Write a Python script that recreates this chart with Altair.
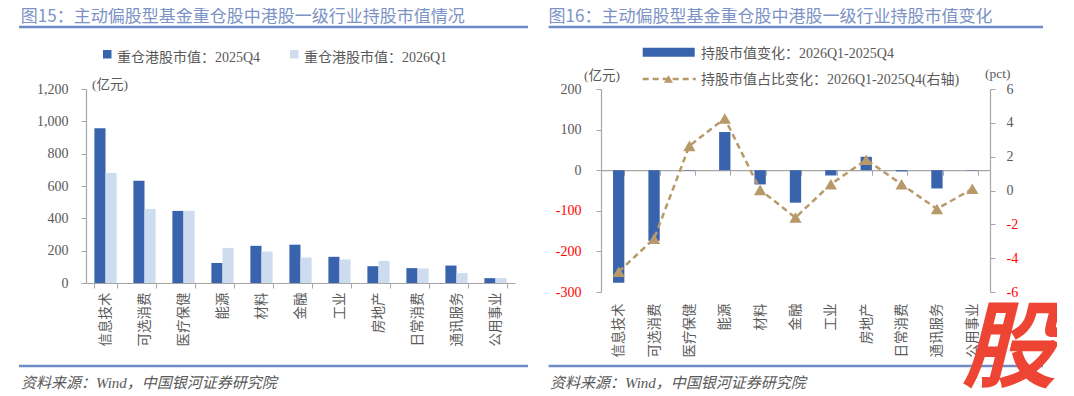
import altair as alt
import pandas as pd

# ---------------- data ----------------
categories = ["信息技术", "可选消费", "医疗保健", "能源", "材料", "金融",
              "工业", "房地产", "日常消费", "通讯服务", "公用事业"]
hold_2025q4 = [957, 633, 446, 124, 230, 237, 162, 104, 92, 108, 30]
hold_2026q1 = [680, 458, 446, 217, 195, 158, 146, 137, 90, 62, 30]
mv_change = [-277, -174, -1, 94, -35, -80, -13, 33, -3, -45, -1]
pct_change = [-4.8, -2.85, 2.64, 4.26, 0.04, -1.6, 0.37, 1.82, 0.37, -1.09, 0.1]

series_names = ["重仓港股市值：2025Q4", "重仓港股市值：2026Q1"]
bar_legend = "持股市值变化：2026Q1-2025Q4"
line_legend = "持股市值占比变化：2026Q1-2025Q4(右轴)"
title_left = "图15：主动偏股型基金重仓股中港股一级行业持股市值情况"
title_right = "图16：主动偏股型基金重仓股中港股一级行业持股市值变化"
source_text = "资料来源：Wind，中国银河证券研究院"
left_ticks = [0, 200, 400, 600, 800, 1000, 1200]
right_ticks_l = [-300, -200, -100, 0, 100, 200]
right_ticks_r = [-6, -4, -2, 0, 2, 4, 6]

# ---------------- style ----------------
FONT = "Liberation Serif, Noto Sans CJK SC"
CJK = "Noto Sans CJK SC"
GRAY = "#595959"
AXISC = "#A6A6A6"
DARK = "#3A63AE"
LIGHT = "#CEDCF0"
TAN = "#B8996A"
TITLE_C = "#7C93C5"
RULE_C = "#6F8CC6"
RED = "#FF0000"

# plot origins in page coordinates
LX, LY = 86, 89
RX, RY = 601, 89
LW, LH = 429, 194
RW, RH = 389, 203

one = alt.Data(values=[{}])


def txt(s, x, y, ox, oy, size=13.5, color=GRAY, font=FONT, align="left",
        italic=False, weight="normal"):
    return alt.Chart(one).mark_text(
        text=s, align=align, baseline="middle", fontSize=size, font=font,
        color=color, fontStyle="italic" if italic else "normal", fontWeight=weight
    ).encode(x=alt.value(x - ox), y=alt.value(y - oy))


def hrule(x1, x2, y, ox, oy, color=RULE_C, width=2.5, dash=None):
    kw = dict(color=color, strokeWidth=width)
    if dash:
        kw["strokeDash"] = dash
    return alt.Chart(one).mark_rule(**kw).encode(
        x=alt.value(x1 - ox), x2=alt.value(x2 - ox), y=alt.value(y - oy))


def box(x1, x2, y1, y2, ox, oy, color, opacity=1):
    return alt.Chart(one).mark_rect(color=color, opacity=opacity).encode(
        x=alt.value(x1 - ox), x2=alt.value(x2 - ox),
        y=alt.value(y1 - oy), y2=alt.value(y2 - oy))


neg_color = {"expr": f"datum.value < 0 ? '{RED}' : '{GRAY}'"}

# ---------------- left panel ----------------
rows = []
for i, c in enumerate(categories):
    rows.append({"category": c, "series": series_names[0], "value": hold_2025q4[i]})
    rows.append({"category": c, "series": series_names[1], "value": hold_2026q1[i]})
df_left = pd.DataFrame(rows)

bars_left = alt.Chart(df_left).mark_bar().encode(
    x=alt.X("category:N", sort=categories,
            scale=alt.Scale(paddingInner=0.43, paddingOuter=0.215),
            axis=alt.Axis(title=None, labelAngle=270, labelAlign="right",
                          labelBaseline="middle", labelFont=CJK,
                          labelFontSize=13.5, labelColor=GRAY, labelPadding=4,
                          tickSize=5, tickBand="extent", domainColor=AXISC,
                          tickColor=AXISC, domainWidth=1.2)),
    xOffset=alt.XOffset("series:N", sort=series_names,
                        scale=alt.Scale(paddingInner=0, paddingOuter=0)),
    y=alt.Y("value:Q", scale=alt.Scale(domain=[0, 1200], nice=False),
            axis=alt.Axis(title=None, values=left_ticks,
                          labelExpr="format(datum.value, ',d')", grid=False,
                          tickSize=5, labelPadding=13, labelFont=FONT,
                          labelFontSize=14, labelColor=GRAY, domainColor=AXISC,
                          tickColor=AXISC, domainWidth=1.2)),
    color=alt.Color("series:N", sort=series_names,
                    scale=alt.Scale(domain=series_names, range=[DARK, LIGHT]),
                    legend=None),
)

left_deco = [
    box(8, 9, 8, 9, LX, LY, "#FFFFFF", opacity=0),
    txt(title_left, 20.8, 17, LX, LY, size=17, color=TITLE_C, font=CJK),
    hrule(19, 528, 27, LX, LY),
    box(103, 111.5, 50, 58.5, LX, LY, DARK),
    txt(series_names[0], 117, 57.5, LX, LY, size=14),
    box(290, 298.5, 50, 58.5, LX, LY, LIGHT),
    txt(series_names[1], 304, 57.5, LX, LY, size=14),
    txt("(亿元)", 92, 85, LX, LY, size=13.5),
    hrule(19, 528, 366, LX, LY),
    txt(source_text, 21, 383, LX, LY, size=15, italic=True),
]

left = alt.layer(bars_left, *left_deco).properties(width=LW, height=LH)

# ---------------- right panel ----------------
df_right = pd.DataFrame({"category": categories, "change": mv_change, "pct": pct_change})

zero_from_bottom = RH * 300 / 500

bars_right = alt.Chart(df_right).mark_bar(color=DARK).encode(
    x=alt.X("category:N", sort=categories,
            scale=alt.Scale(paddingInner=0.68, paddingOuter=0.34),
            axis=alt.Axis(title=None, labelAngle=270, labelAlign="right",
                          labelBaseline="middle", labelFont=CJK,
                          labelFontSize=13.5, labelColor=GRAY,
                          offset=-zero_from_bottom,
                          labelPadding=zero_from_bottom + 6,
                          tickSize=5, tickBand="extent", domainColor=AXISC,
                          tickColor=AXISC, domainWidth=1.2)),
    y=alt.Y("change:Q", scale=alt.Scale(domain=[-300, 200], nice=False),
            axis=alt.Axis(title=None, orient="left", values=right_ticks_l,
                          labelExpr="'' + datum.value", grid=False, tickSize=5,
                          labelPadding=15, labelFont=FONT, labelFontSize=14,
                          labelColor=neg_color, domainColor=AXISC,
                          tickColor=AXISC, domainWidth=1.2)),
)

line_right = alt.Chart(df_right).mark_line(
    color=TAN, strokeWidth=2.5, strokeDash=[6, 4],
    point=alt.OverlayMarkDef(shape="triangle-up", size=150, filled=True,
                             color=TAN, opacity=1)
).encode(
    x=alt.X("category:N", sort=categories),
    y=alt.Y("pct:Q", scale=alt.Scale(domain=[-6, 6], nice=False),
            axis=alt.Axis(title=None, orient="right", values=right_ticks_r,
                          labelExpr="'' + datum.value", grid=False, tickSize=5,
                          labelPadding=11, labelFont=FONT, labelFontSize=14,
                          labelColor=neg_color, domainColor=AXISC,
                          tickColor=AXISC, domainWidth=1.2)),
)

legend_tri = alt.Chart(one).mark_point(
    shape="triangle-up", size=80, filled=True, color=TAN, opacity=1
).encode(x=alt.value(668.5 - RX), y=alt.value(79 - RY))

right_deco = [
    txt(title_right, 548.6, 17, RX, RY, size=17, color=TITLE_C, font=CJK),
    hrule(548.6, 1043, 27, RX, RY),
    box(642.7, 694.7, 47.7, 56.7, RX, RY, DARK),
    txt(bar_legend, 701, 53.5, RX, RY, size=14),
    hrule(642.7, 695.8, 79, RX, RY, color=TAN, width=2.5, dash=[6, 4]),
    legend_tri,
    txt(line_legend, 701, 80, RX, RY, size=14),
    txt("(亿元)", 584, 76, RX, RY, size=13.5),
    txt("(pct)", 985, 74, RX, RY, size=13.5),
    hrule(548.6, 1043, 366, RX, RY),
    txt(source_text, 550, 383, RX, RY, size=15, italic=True),
    txt("股", 1009, 351, RX, RY, size=95, color="#EE4433", font=CJK,
        align="center", italic=True, weight="bold"),
]

right = alt.layer(bars_right, line_right, *right_deco).resolve_scale(
    y="independent").properties(width=RW, height=RH)

chart = alt.HConcatChart(hconcat=[left, right], spacing=RX - LX - LW,
                         bounds="flush", padding=0).configure_view(stroke=None)

chart.save("out.html", embed_options={"renderer": "svg", "actions": False})
